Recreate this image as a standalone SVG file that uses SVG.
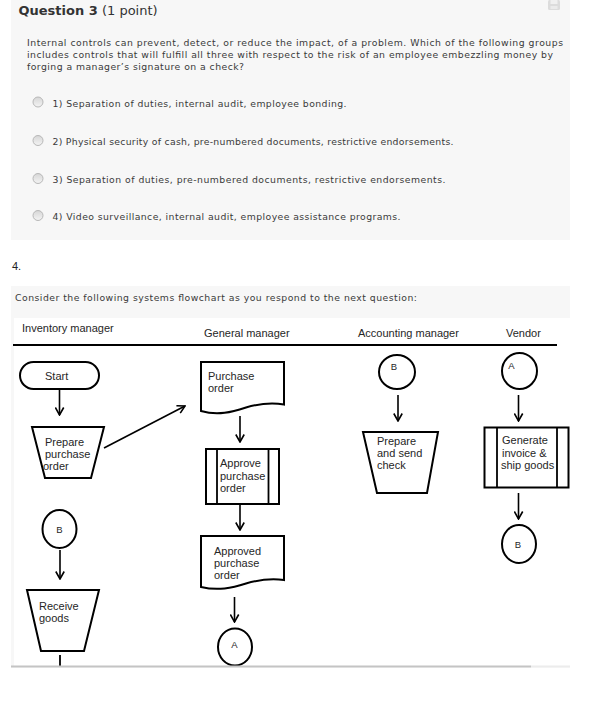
<svg xmlns="http://www.w3.org/2000/svg" width="608" height="702" viewBox="0 0 608 702">
<style>
.q{font-family:"DejaVu Sans",Verdana,sans-serif;font-size:9.3px;fill:#3a3a3a}
.t{font-family:"DejaVu Sans",Verdana,sans-serif;font-size:13px;fill:#333}
.f{font-family:"Liberation Sans",Arial,sans-serif;font-size:11px;fill:#262626}
.c{font-family:"Liberation Sans",Arial,sans-serif;font-size:9.5px;fill:#262626}
.s{fill:#fff;stroke:#000;stroke-width:2}
.ln{fill:none;stroke:#000;stroke-width:1.8}
.a{fill:none;stroke:#000;stroke-width:1.6;marker-end:url(#ah)}
.r{fill:url(#rg);stroke:#b8b8b8;stroke-width:1}
</style>
<defs>
<marker id="ah" viewBox="0 0 10 10" refX="9" refY="5" markerWidth="10" markerHeight="10" markerUnits="userSpaceOnUse" orient="auto">
<path d="M1.5,0.8 L9,5 L1.5,9.2" fill="none" stroke="#000" stroke-width="1.6"/>
</marker>
<linearGradient id="rg" x1="0" y1="0" x2="0" y2="1">
<stop offset="0" stop-color="#d6d6d6"/>
<stop offset="1" stop-color="#f4f4f4"/>
</linearGradient>
</defs>
<rect width="608" height="702" fill="#fff"/>
<g id="question3">
<rect x="11" y="0" width="559" height="240" fill="#f7f7f7"/>
<rect x="548" y="0" width="12" height="10" rx="1.5" fill="#dcdcdc"/>
<rect x="550.5" y="0" width="7" height="4" fill="#f0f0f0"/>
<rect x="550.5" y="6" width="7" height="3" fill="#ebebeb"/>
<text class="t" x="18.5" y="15"><tspan font-weight="bold">Question 3</tspan> (1 point)</text>
<text class="q" x="27" y="45.5" textLength="536">Internal controls can prevent, detect, or reduce the impact, of a problem.  Which of the following groups</text>
<text class="q" x="27" y="57.5" textLength="526">includes controls that will fulfill all three with respect to the risk of an employee embezzling money by</text>
<text class="q" x="27" y="69.5" textLength="217">forging a manager’s signature on a check?</text>
<circle class="r" cx="38" cy="102" r="5"/>
<text class="q" x="52.5" y="106.5" textLength="294">1) Separation of duties, internal audit, employee bonding.</text>
<circle class="r" cx="38" cy="140.5" r="5"/>
<text class="q" x="52.5" y="145" textLength="401">2) Physical security of cash, pre-numbered documents, restrictive endorsements.</text>
<circle class="r" cx="38" cy="178.5" r="5"/>
<text class="q" x="52.5" y="183" textLength="393">3) Separation of duties, pre-numbered documents, restrictive endorsements.</text>
<circle class="r" cx="38" cy="215.5" r="5"/>
<text class="q" x="52.5" y="220" textLength="348">4) Video surveillance, internal audit, employee assistance programs.</text>
</g>
<g id="question4">
<text x="12" y="270" font-family="Liberation Sans, Arial, sans-serif" font-size="11" fill="#222">4.</text>
<rect x="11" y="286" width="559" height="382" fill="#f7f7f7"/>
<text class="q" x="15" y="300.5" textLength="402">Consider the following systems flowchart as you respond to the next question:</text>
<rect x="14" y="318" width="556" height="348" fill="#fff"/>
</g>
<g id="lanes">
<text class="f" x="22" y="332">Inventory manager</text>
<text class="f" x="204" y="337">General manager</text>
<text class="f" x="358" y="337">Accounting manager</text>
<text class="f" x="506" y="337">Vendor</text>
<line x1="13" y1="345" x2="557" y2="345" stroke="#000" stroke-width="2"/>
</g>
<g id="connectors">
<line class="a" x1="59.5" y1="389" x2="59.5" y2="415"/>
<line class="a" x1="104" y1="448" x2="185" y2="406"/>
<line class="a" x1="240" y1="416" x2="240" y2="442"/>
<line class="a" x1="240" y1="504" x2="240" y2="530"/>
<line class="a" x1="234.5" y1="597" x2="234.5" y2="622"/>
<line class="a" x1="60" y1="550" x2="60" y2="579"/>
<line class="ln" x1="60" y1="655" x2="60" y2="666"/>
<line class="a" x1="398" y1="395" x2="398" y2="421"/>
<line class="a" x1="518.5" y1="395" x2="518.5" y2="421"/>
<line class="a" x1="518.5" y1="493" x2="518.5" y2="519"/>
</g>
<g id="start">
<rect class="s" x="20" y="362" width="79" height="27" rx="13.5"/>
<text class="f" x="45" y="380">Start</text>
</g>
<g id="prepare-po">
<polygon class="s" points="32,427 104,427 91,478 45,478"/>
<text class="f" x="45" y="446">Prepare</text>
<text class="f" x="45" y="458">purchase</text>
<text class="f" x="43" y="470">order</text>
</g>
<g id="b-inventory">
<ellipse class="s" cx="59.5" cy="529" rx="17" ry="19"/>
<text class="c" x="59.5" y="533" text-anchor="middle">B</text>
</g>
<g id="receive-goods">
<polygon class="s" points="27,590 99,590 84,651 41,651"/>
<text class="f" x="39" y="610">Receive</text>
<text class="f" x="39" y="622">goods</text>
</g>
<g id="purchase-order">
<path class="s" d="M201,362 H284 V404.5 C270,402 258,404 246,407.5 C232,412 218,416 201,411 Z"/>
<text class="f" x="208" y="380">Purchase</text>
<text class="f" x="208" y="392">order</text>
</g>
<g id="approve-po">
<rect class="s" x="206" y="449" width="73" height="55"/>
<line class="ln" x1="217" y1="449" x2="217" y2="504"/>
<line class="ln" x1="268.5" y1="449" x2="268.5" y2="504"/>
<text class="f" x="220" y="467">Approve</text>
<text class="f" x="220" y="480">purchase</text>
<text class="f" x="220" y="492">order</text>
</g>
<g id="approved-po">
<path class="s" d="M201,536 H284 V580 C270,578 258,580 246,583.5 C232,588 218,591 201,587 Z"/>
<text class="f" x="214" y="555">Approved</text>
<text class="f" x="214" y="567">purchase</text>
<text class="f" x="214" y="579">order</text>
</g>
<g id="a-general">
<ellipse class="s" cx="235" cy="647" rx="17" ry="18.5"/>
<text class="c" x="234.5" y="648" text-anchor="middle">A</text>
</g>
<g id="b-accounting">
<ellipse class="s" cx="397" cy="372" rx="18" ry="17"/>
<text class="c" x="394" y="370" text-anchor="middle">B</text>
</g>
<g id="prepare-check">
<polygon class="s" points="363,432 438,432 427,493 377,493"/>
<text class="f" x="377" y="445">Prepare</text>
<text class="f" x="377" y="457">and send</text>
<text class="f" x="377" y="469">check</text>
</g>
<g id="a-vendor">
<ellipse class="s" cx="519.5" cy="371" rx="17.5" ry="18"/>
<text class="c" x="511.5" y="369" text-anchor="middle">A</text>
</g>
<g id="generate-invoice">
<rect class="s" x="484.5" y="427.5" width="84" height="60"/>
<line class="ln" x1="497" y1="427.5" x2="497" y2="487.5"/>
<line class="ln" x1="557" y1="427.5" x2="557" y2="487.5"/>
<text class="f" x="502" y="444">Generate</text>
<text class="f" x="502" y="457">invoice &amp;</text>
<text class="f" x="501" y="469">ship goods</text>
</g>
<g id="b-vendor">
<ellipse class="s" cx="519" cy="544" rx="17" ry="19"/>
<text class="c" x="518" y="548" text-anchor="middle">B</text>
</g>
<g id="bottom-edge">
<rect x="0" y="667.5" width="608" height="34.5" fill="#fff"/>
<rect x="11" y="665.5" width="520" height="2" fill="#c4c4c4"/>
<rect x="531" y="665.5" width="39" height="2" fill="#ececec"/>
</g>
</svg>
